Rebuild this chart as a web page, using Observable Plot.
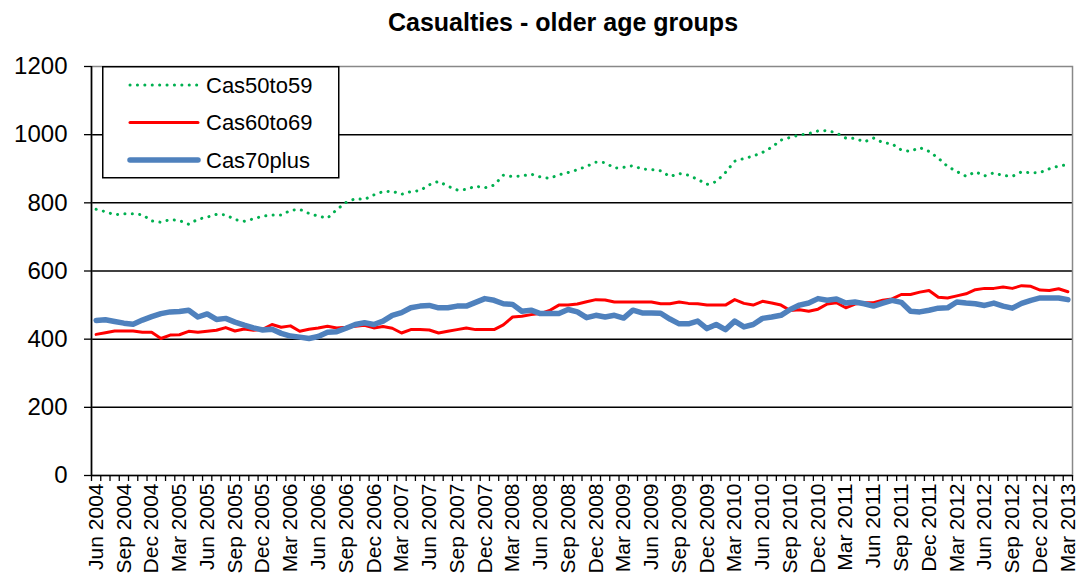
<!DOCTYPE html>
<html><head><meta charset="utf-8">
<script src="https://cdn.jsdelivr.net/npm/d3@7"></script>
<script src="https://cdn.jsdelivr.net/npm/@observablehq/plot@0.6"></script>
<style>
body{margin:0;background:#fff;font-family:"Liberation Sans",Arial,sans-serif;}
#wrap{position:relative;width:1081px;height:575px;overflow:hidden;}
#title{position:absolute;left:0;top:0;width:1126px;text-align:center;font-weight:bold;font-size:25px;line-height:44px;color:#000;}
#chart{position:absolute;left:0;top:48px;}
#legend{position:absolute;left:102px;top:66px;}
</style></head>
<body><div id="wrap"><div id="title">Casualties - older age groups</div><div id="chart"></div><div id="legend"></div></div>
<script>
const seriesNames = ["Cas50to59","Cas60to69","Cas70plus"];
const tickLabels = ["Jun 2004","Sep 2004","Dec 2004","Mar 2005","Jun 2005","Sep 2005","Dec 2005","Mar 2006","Jun 2006","Sep 2006","Dec 2006","Mar 2007","Jun 2007","Sep 2007","Dec 2007","Mar 2008","Jun 2008","Sep 2008","Dec 2008","Mar 2009","Jun 2009","Sep 2009","Dec 2009","Mar 2010","Jun 2010","Sep 2010","Dec 2010","Mar 2011","Jun 2011","Sep 2011","Dec 2011","Mar 2012","Jun 2012","Sep 2012","Dec 2012","Mar 2013"];
const yTicks = [0,200,400,600,800,1000,1200];
const cas50to59 = [781,774,765,768,768,765,747,743,751,748,737,752,758,766,765,751,746,753,761,764,764,778,781,769,761,755,780,801,812,810,823,833,834,825,833,836,853,863,849,838,839,849,844,852,881,877,879,884,876,872,882,889,897,907,919,918,902,904,909,899,898,894,877,886,881,869,854,862,889,922,930,937,948,963,984,992,999,1003,1011,1012,1005,990,989,979,990,977,973,955,951,962,951,931,907,892,878,891,879,888,880,878,891,888,889,900,908,912];
const cas60to69 = [414,419,424,424,424,420,420,402,412,413,423,420,423,426,434,424,430,426,429,443,435,439,423,429,433,438,433,435,438,441,433,437,432,418,428,428,427,418,423,428,433,428,428,428,442,465,467,472,475,484,500,500,503,510,516,515,509,509,509,509,509,504,504,509,505,504,500,500,500,516,505,500,511,506,500,484,486,482,488,503,507,492,503,507,507,514,518,531,531,538,543,523,521,527,533,545,549,549,553,549,557,555,544,543,548,539];
const cas70plus = [455,457,452,447,444,456,466,475,480,481,485,465,474,458,461,450,441,433,427,429,417,409,406,402,408,420,422,432,443,448,443,453,470,478,492,497,499,492,492,497,497,508,519,514,504,502,482,485,475,475,475,487,480,463,470,465,470,462,485,477,477,476,459,445,445,453,431,443,428,453,436,443,461,465,470,487,500,506,519,514,518,506,509,504,497,506,514,508,482,480,485,491,492,509,506,504,499,506,497,491,505,514,521,521,521,516];

const styles = [
  {color:"#00B050", width:3, dash:"0.1 7.3", cap:"round"},
  {color:"#FF0000", width:3, dash:null, cap:"round"},
  {color:"#4F81BD", width:5.5, dash:null, cap:"round"}
];
const allSeries = [cas50to59, cas60to69, cas70plus];
const n = cas50to59.length;
const boundaries = d3.range(n + 1).map(k => k - 0.5);
const labelIdx = tickLabels.map((_, k) => k * 3);
const rows = allSeries.map(s => s.map((v, i) => ({i, v})));
const font = '"Liberation Sans", Arial, sans-serif';

const chart = Plot.plot({
  width: 1081, height: 527,
  marginTop: 18, marginBottom: 100, marginLeft: 91, marginRight: 9,
  x: {domain: [-0.5, n - 0.5]},
  y: {domain: [0, 1200]},
  style: {fontFamily: font, fontSize: "21px", color: "#000", background: "transparent"},
  marks: [
    Plot.ruleY(yTicks.slice(1, -1), {stroke: "#000", strokeWidth: 1.5}),
    Plot.frame({stroke: "#888", strokeWidth: 1.5}),
    Plot.ruleX([-0.5], {stroke: "#000", strokeWidth: 1.6}),
    Plot.ruleY([0], {stroke: "#000", strokeWidth: 1.6}),
    Plot.axisY(yTicks, {tickSize: 7, tickPadding: 17, tickFormat: d => String(d), label: null, stroke: "#000", strokeWidth: 1.3, fontSize: 24}),
    Plot.axisX(boundaries, {tickSize: 6, tickFormat: () => "", label: null, stroke: "#000", strokeWidth: 1.3}),
    Plot.axisX(labelIdx, {tickSize: 0, tickPadding: 8, tickRotate: -90, tickFormat: i => tickLabels[i / 3], label: null, fontSize: 21}),
    ...rows.map((r, k) => Plot.line(r, {x: "i", y: "v", stroke: styles[k].color, strokeWidth: styles[k].width,
      strokeDasharray: styles[k].dash, strokeLinecap: styles[k].cap, strokeLinejoin: "round"}))
  ]
});
document.getElementById("chart").appendChild(chart);

// legend
const lg = d3.select("#legend").append("svg").attr("width", 238).attr("height", 113);
lg.append("rect").attr("x", 0.75).attr("y", 0.75).attr("width", 236).attr("height", 111)
  .attr("fill", "#fff").attr("stroke", "#000").attr("stroke-width", 1.5);
seriesNames.forEach((name, k) => {
  const y = 19 + k * 37.5;
  lg.append("line").attr("x1", 28).attr("x2", 96).attr("y1", y).attr("y2", y)
    .attr("stroke", styles[k].color).attr("stroke-width", styles[k].width)
    .attr("stroke-dasharray", styles[k].dash).attr("stroke-linecap", "round");
  lg.append("text").attr("x", 104).attr("y", y).attr("dy", "0.36em")
    .attr("font-size", 22).attr("font-family", font).text(name);
});
</script></body></html>
